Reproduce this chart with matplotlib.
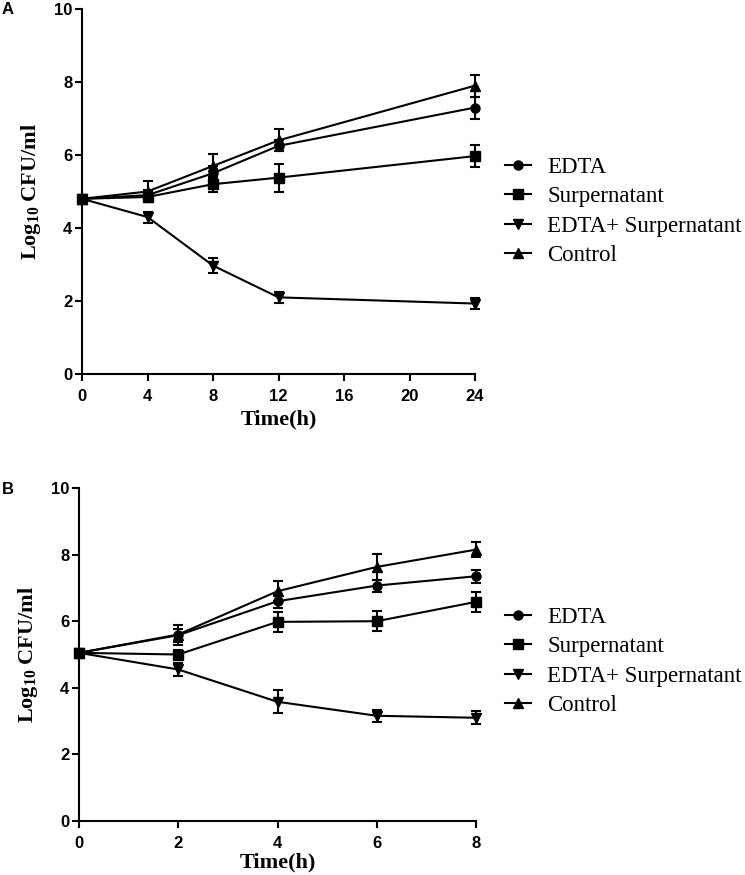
import matplotlib.pyplot as plt
import numpy as np

# panel A data (time in h)
time_a = [0, 4, 8, 12, 24]
edta_a = [4.8, 4.9, 5.5, 6.25, 7.3]
edta_a_err = [0, 0.15, 0.2, 0.15, 0.3]
sup_a = [4.8, 4.85, 5.2, 5.38, 5.97]
sup_a_err = [0, 0.15, 0.2, 0.38, 0.3]
mix_a = [4.8, 4.3, 2.97, 2.1, 1.93]
mix_a_err = [0, 0.15, 0.2, 0.15, 0.15]
ctrl_a = [4.8, 5.0, 5.7, 6.4, 7.9]
ctrl_a_err = [0, 0.3, 0.33, 0.3, 0.3]

# panel B data
time_b = [0, 2, 4, 6, 8]
edta_b = [5.05, 5.58, 6.6, 7.07, 7.35]
edta_b_err = [0, 0.2, 0.2, 0.18, 0.2]
sup_b = [5.05, 5.0, 5.98, 6.0, 6.58]
sup_b_err = [0, 0.15, 0.3, 0.3, 0.3]
mix_b = [5.05, 4.55, 3.58, 3.16, 3.1]
mix_b_err = [0, 0.2, 0.35, 0.18, 0.2]
ctrl_b = [5.05, 5.6, 6.9, 7.63, 8.15]
ctrl_b_err = [0, 0.3, 0.3, 0.38, 0.22]

labels = ["EDTA", "Surpernatant", "EDTA+ Surpernatant", "Control"]
markers = ["o", "s", "v", "^"]
zorders = [3, 6, 4, 5]

plt.rcParams["mathtext.fontset"] = "custom"
plt.rcParams["mathtext.bf"] = "Liberation Serif:bold"
plt.rcParams["mathtext.rm"] = "Liberation Serif:bold"
plt.rcParams["mathtext.it"] = "Liberation Serif:bold"

fig = plt.figure(figsize=(7.45, 8.75), dpi=100)
ax_a = fig.add_axes([82/745, 1-374/875, (475-82)/745, (374-9)/875])
ax_b = fig.add_axes([79/745, 1-821/875, (476-79)/745, (821-488)/875])

label_font = dict(family="Liberation Serif", weight="bold", size=16)


def panel(ax, t, series, errs, xticks, legend_y, xpad):
    handles = []
    for y, e, m, lab, z in zip(series, errs, markers, labels, zorders):
        h = ax.errorbar(t, y, yerr=e, color="black", marker=m, markersize=6.5,
                        linewidth=1.5, elinewidth=1.5, capsize=3.5, capthick=1.5,
                        label=lab, clip_on=False, zorder=z)
        handles.append(h[0])
    ax.set_xlim(t[0], t[-1])
    ax.set_ylim(0, 10)
    ax.set_xticks(xticks)
    ax.set_yticks([0, 2, 4, 6, 8, 10])
    for s in ["top", "right"]:
        ax.spines[s].set_visible(False)
    for s in ["left", "bottom"]:
        ax.spines[s].set_linewidth(1.5)
    ax.tick_params(direction="out", length=5, width=1.5)
    ax.tick_params(axis="x", pad=6)
    ax.tick_params(axis="y", pad=2)
    for lbl in ax.get_xticklabels() + ax.get_yticklabels():
        lbl.set_fontfamily("Liberation Sans")
        lbl.set_fontweight("bold")
        lbl.set_fontsize(12)
    ax.set_xlabel("Time(h)", labelpad=xpad, **label_font)
    ax.set_ylabel(r"Log$_{10}$ CFU/ml", labelpad=8, **label_font)
    ax.legend(handles, labels, loc="center left", bbox_to_anchor=(505/745, legend_y),
              bbox_transform=fig.transFigure, frameon=False, handlelength=1.15,
              handletextpad=0.7, labelspacing=0.36, borderpad=0, borderaxespad=0,
              prop=dict(family="Liberation Serif", size=16.5))


panel(ax_a, time_a, [edta_a, sup_a, mix_a, ctrl_a],
      [edta_a_err, sup_a_err, mix_a_err, ctrl_a_err], [0, 4, 8, 12, 16, 20, 24], 1-211.5/875, 4)
panel(ax_b, time_b, [edta_b, sup_b, mix_b, ctrl_b],
      [edta_b_err, sup_b_err, mix_b_err, ctrl_b_err], [0, 2, 4, 6, 8], 1-661.5/875, 1)

fig.text(2/745, 1-9/875, "A", family="Liberation Sans", weight="bold", size=12, va="center")
fig.text(2/745, 1-489/875, "B", family="Liberation Sans", weight="bold", size=12, va="center")

fig.savefig("out.png", dpi=100)
